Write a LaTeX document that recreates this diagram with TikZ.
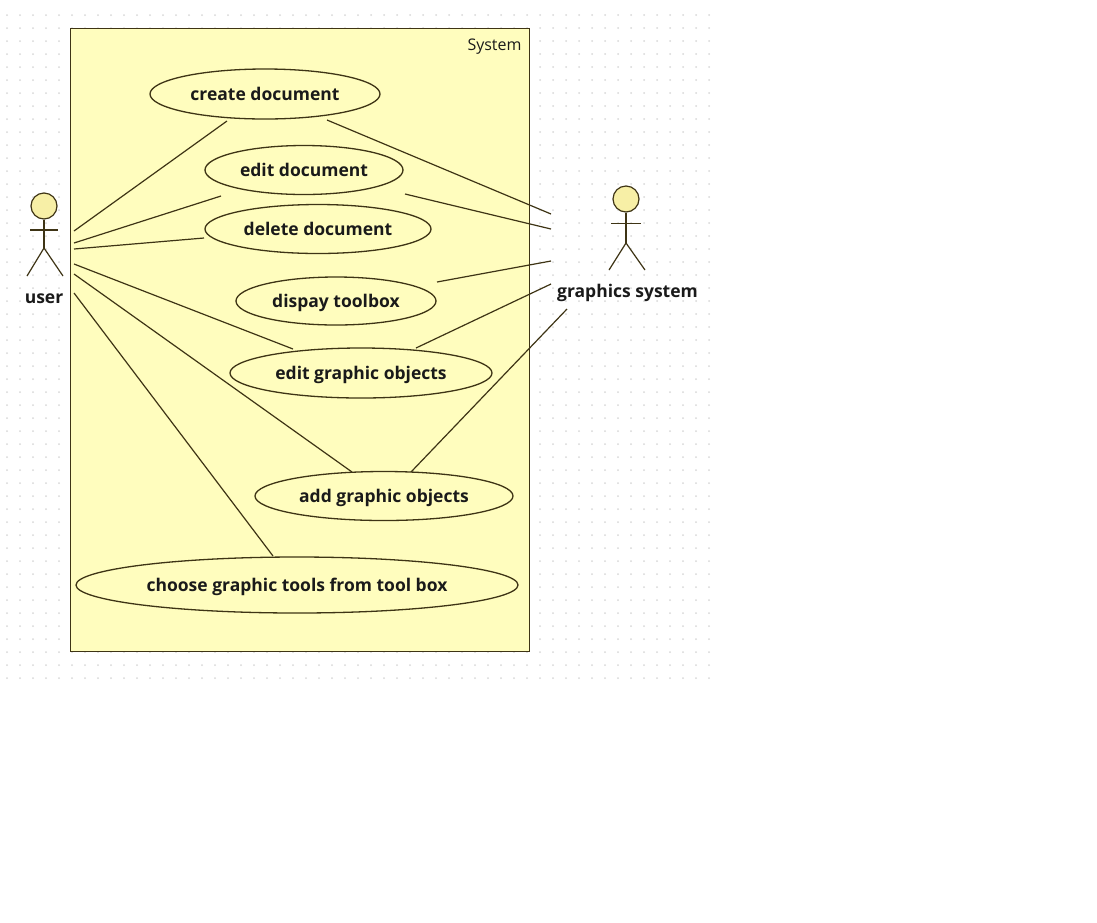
\documentclass[tikz,border=0pt]{standalone}
\usepackage{fontspec}
\setmainfont{Open Sans}
\definecolor{sysfill}{HTML}{FFFDBE}
\definecolor{linec}{HTML}{3E3415}
\definecolor{headfill}{HTML}{F7EFA6}
\definecolor{dotc}{HTML}{D8D8D8}
\definecolor{txt}{HTML}{1A1A1A}
\usetikzlibrary{shapes.geometric}
\tikzset{
  usecase/.style={draw=linec,line width=1.3pt,ellipse,fill=sysfill,inner sep=0pt,text=txt,text height=12pt,text depth=0pt,font=\fontsize{17.5}{18}\selectfont\bfseries},
  conn/.style={draw=linec,line width=1.2pt},
  actorline/.style={draw=linec,line width=1.2pt},
  actorname/.style={text=txt,font=\fontsize{17.5}{18}\selectfont\bfseries,inner sep=0pt},
  head/.style={circle,draw=linec,line width=1.2pt,fill=headfill,minimum size=26pt,inner sep=0pt},
  sysbox/.style={draw=linec,line width=1.5pt,fill=sysfill,inner sep=0pt,anchor=north west,minimum width=459pt,minimum height=623pt}
}
\begin{document}
\begin{tikzpicture}[x=1pt,y=-1pt]
\useasboundingbox (0,0) rectangle (1097,922);
\fill[white] (0,0) rectangle (1097,922);
% dotted canvas
\foreach \dx in {0,...,54} \foreach \dy in {0,...,51}
  \fill[dotc] ({7+13*\dx},{15+13*\dy}) circle (1pt);
% system boundary
\node[sysbox] (sys) at (69.6,27.6) {};
\node[font=\fontsize{16}{16}\selectfont,text=txt,inner sep=0pt] (syslabel) at (494.5,47) {System};
% use cases
\node[usecase,minimum width=230pt,minimum height=50pt] (create) at (265,94) {create document};
\node[usecase,minimum width=198pt,minimum height=49pt] (editdoc) at (304,170) {edit document};
\node[usecase,minimum width=226pt,minimum height=49pt] (deldoc) at (318,229) {delete document};
\node[usecase,minimum width=200pt,minimum height=48pt] (toolbox) at (336,301) {dispay toolbox};
\node[usecase,minimum width=262pt,minimum height=50pt] (editobj) at (361,373) {edit graphic objects};
\node[usecase,minimum width=258pt,minimum height=49pt] (addobj) at (384,496) {add graphic objects};
\node[usecase,minimum width=442pt,minimum height=56pt] (choose) at (297,585) {choose graphic tools from tool box};
% actors
\node[head] (userhead) at (44,206) {};
\coordinate (userhip) at (44,248);
\coordinate (userlarm) at (30,230);
\coordinate (userrarm) at (58,230);
\coordinate (userlleg) at (27,276);
\coordinate (userrleg) at (63,276);
\draw[actorline] (userhead.south) -- (userhip);
\draw[actorline] (userlarm) -- (userrarm);
\draw[actorline] (userlleg) -- (userhip) -- (userrleg);
\node[actorname] (user) at (44,298.5) {user};
\node[head] (gshead) at (626,199) {};
\coordinate (gship) at (626,243);
\coordinate (gslarm) at (611,223.5);
\coordinate (gsrarm) at (641,223.5);
\coordinate (gslleg) at (609,270);
\coordinate (gsrleg) at (645,270);
\draw[actorline] (gshead.south) -- (gship);
\draw[actorline] (gslarm) -- (gsrarm);
\draw[actorline] (gslleg) -- (gship) -- (gsrleg);
\node[actorname] (gs) at (627.5,292.5) {graphics system};
% connector ends
\coordinate (u1) at (74,231); \coordinate (c1) at (227,121);
\coordinate (u2) at (74,243); \coordinate (c2) at (221,196);
\coordinate (u3) at (74,249); \coordinate (c3) at (204,238);
\coordinate (u4) at (74,264); \coordinate (c4) at (293,349);
\coordinate (u5) at (74,274); \coordinate (c5) at (352,472);
\coordinate (u6) at (74,293); \coordinate (c6) at (273,556);
\coordinate (d1) at (327,120); \coordinate (g1) at (551,214);
\coordinate (d2) at (405,194); \coordinate (g2) at (551,229);
\coordinate (d3) at (437,282); \coordinate (g3) at (551,261);
\coordinate (d4) at (416,348); \coordinate (g4) at (551,284);
\coordinate (d5) at (411,472); \coordinate (g5) at (567,309);
\draw[conn] (u1) -- (c1);
\draw[conn] (u2) -- (c2);
\draw[conn] (u3) -- (c3);
\draw[conn] (u4) -- (c4);
\draw[conn] (u5) -- (c5);
\draw[conn] (u6) -- (c6);
\draw[conn] (d1) -- (g1);
\draw[conn] (d2) -- (g2);
\draw[conn] (d3) -- (g3);
\draw[conn] (d4) -- (g4);
\draw[conn] (d5) -- (g5);
\end{tikzpicture}
\end{document}
